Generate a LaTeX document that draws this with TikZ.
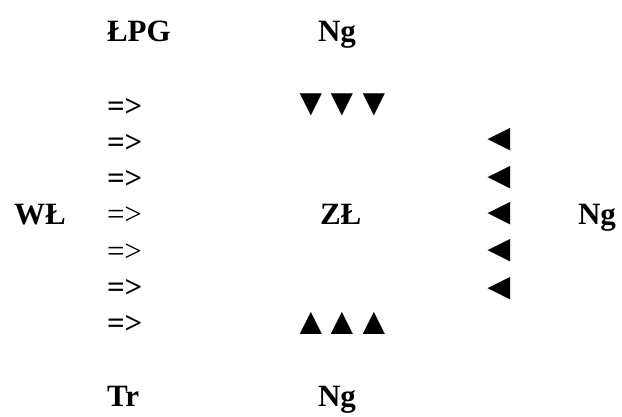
\documentclass[tikz,border=0pt]{standalone}
\usepackage{fontspec}
\setmainfont{Liberation Serif}
\begin{document}
\begin{tikzpicture}[x=1pt,y=-1pt,
  lbl/.style={anchor=base west,inner sep=0pt,outer sep=0pt,font=\fontsize{31}{36}\selectfont\bfseries},
  lblm/.style={lbl,font=\fontsize{31}{36}\selectfont\mdseries},
  tri/.style={anchor=base,inner sep=0pt,outer sep=0pt,text height=0.55em,text depth=0pt,font=\fontsize{38}{42}\selectfont}]
\useasboundingbox (0,0) rectangle (622,416);
\node[lbl] (lpg) at (107,41) {ŁPG};
\node[lbl] (ngt) at (318,41) {Ng};
\node[lbl] (a1) at (107,116) {=>};
\node[lbl] (a2) at (107,152.3) {=>};
\node[lbl] (a3) at (107,188.6) {=>};
\node[lblm] (a4) at (107,224.9) {=>};
\node[lblm] (a5) at (107,261.2) {=>};
\node[lbl] (a6) at (107,297.5) {=>};
\node[lbl] (a7) at (107,333.8) {=>};
\node[lbl] (wl) at (14,224.9) {WŁ};
\node[lbl] (zl) at (320,224.9) {ZŁ};
\node[lbl] (ngr) at (578,224.9) {Ng};
\node[lbl] (tr) at (107,406) {Tr};
\node[lbl] (ngb) at (318,406) {Ng};
\node[tri] (d1) at (311,115.6) {▼};
\node[tri] (d2) at (342.5,115.6) {▼};
\node[tri] (d3) at (374,115.6) {▼};
\node[tri] (u1) at (311,334.5) {▲};
\node[tri] (u2) at (342.5,334.5) {▲};
\node[tri] (u3) at (374,334.5) {▲};
\node[tri] (l1) at (499.5,150.2) {◄};
\node[tri] (l2) at (499.5,188.2) {◄};
\node[tri] (l3) at (499.5,224.2) {◄};
\node[tri] (l4) at (499.5,261.2) {◄};
\node[tri] (l5) at (499.5,299.2) {◄};
\end{tikzpicture}
\end{document}
